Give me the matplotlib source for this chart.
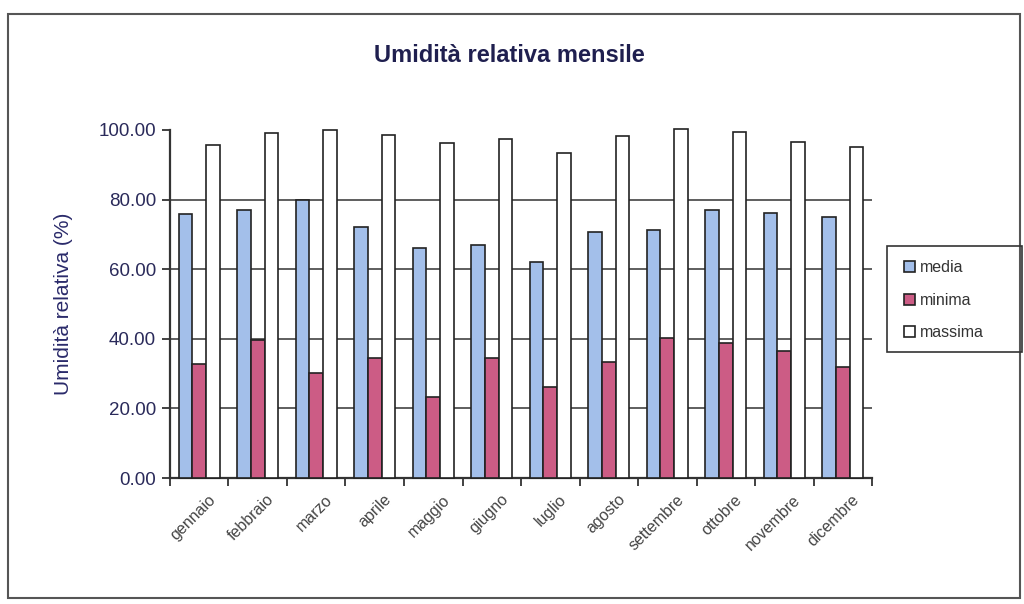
import numpy as np
import matplotlib.pyplot as plt
from matplotlib.patches import Rectangle

# Dati mensili di umidità relativa (%)
mesi = ["gennaio", "febbraio", "marzo", "aprile", "maggio", "giugno",
        "luglio", "agosto", "settembre", "ottobre", "novembre", "dicembre"]
media = [75.8, 77.0, 79.9, 72.0, 66.0, 67.0, 62.0, 70.8, 71.3, 77.0, 76.2, 74.9]
minima = [32.8, 39.7, 30.1, 34.4, 23.2, 34.4, 26.2, 33.2, 40.1, 38.7, 36.6, 32.0]
massima = [95.7, 99.0, 100.0, 98.6, 96.2, 97.3, 93.5, 98.4, 100.3, 99.3, 96.5, 95.0]

plt.rcParams['font.family'] = ['Liberation Sans', 'DejaVu Sans']

fig = plt.figure(figsize=(10.24, 6.04), dpi=100)
ax = fig.add_axes([0.166, 0.2086, 0.6856, 0.5762])

# cornice esterna del grafico
fig.patches.append(Rectangle((0.008, 0.01), 0.988, 0.967, transform=fig.transFigure,
                             fill=False, edgecolor='#555555', linewidth=1.5))

x = np.arange(len(mesi))
w = 0.235
colori = ['#a3bfea', '#cc5c85', '#ffffff']
serie = [media, minima, massima]
nomi = ['media', 'minima', 'massima']
for k in range(3):
    ax.bar(x + (k - 1) * w, serie[k], w, color=colori[k], edgecolor='#222222',
           linewidth=1.2, label=nomi[k], zorder=3, clip_on=False)

ax.set_xlim(-0.5, len(mesi) - 0.5)
ax.set_ylim(0, 100)
ax.set_yticks(np.arange(0, 101, 20))
ax.set_yticklabels(["%.2f" % v for v in np.arange(0, 101, 20)], color='#2a2a5a', fontsize=13.5)
for g in [20, 40, 60, 80]:
    ax.axhline(g, color='#333333', linewidth=1.1, zorder=1)

# tacche ai confini fra le categorie
ax.set_xticks(np.arange(-0.5, len(mesi), 1.0))
ax.set_xticklabels([])
ax.tick_params(axis='x', direction='out', length=6, width=1.3, color='#333333')
ax.tick_params(axis='y', direction='out', length=6, width=1.3, color='#333333', pad=4)
for i, m in enumerate(mesi):
    ax.text(i + 0.15, -4.0, m, rotation=45, ha='right', va='top', fontsize=11.5,
            color='#444444', rotation_mode='anchor')

ax.spines['top'].set_visible(False)
ax.spines['right'].set_visible(False)
for s in ['left', 'bottom']:
    ax.spines[s].set_linewidth(1.6)
    ax.spines[s].set_color('#333333')

ax.set_ylabel("Umidità relativa (%)", color='#2a2a6a', fontsize=15, labelpad=18)
fig.text(0.497, 0.908, "Umidità relativa mensile", ha='center', va='center',
         fontsize=17, fontweight='bold', color='#1f1f4f')

# legenda senza cornice, con riquadro disegnato a parte
leg = ax.legend(loc='upper left', bbox_to_anchor=(0.873, 0.585),
                bbox_transform=fig.transFigure, frameon=False, fontsize=11.5,
                handlelength=0.7, handleheight=0.7, handletextpad=0.3,
                labelspacing=1.1, borderpad=0.6, borderaxespad=0)
for t in leg.get_texts():
    t.set_color('#333333')
fig.patches.append(Rectangle((0.866, 0.417), 0.132, 0.1755, transform=fig.transFigure,
                             fill=False, edgecolor='#333333', linewidth=1.2))

fig.savefig("out.png", dpi=100)
